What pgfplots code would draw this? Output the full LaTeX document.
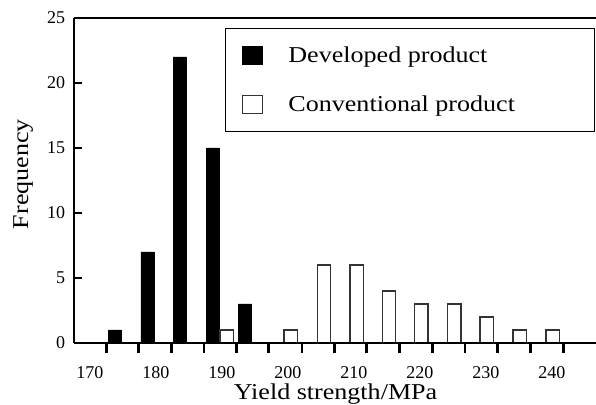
\documentclass[border=0pt]{standalone}
\usepackage{fontspec}
\setmainfont[FakeStretch=1.15]{Liberation Serif}
\newfontfamily\tickfont{Liberation Serif}
\usepackage{pgfplots}
\pgfplotsset{compat=1.18}
\usetikzlibrary{calc}

\begin{document}
\begin{tikzpicture}
\begin{axis}[
    scale only axis,
    width=391.5pt, height=243.75pt,
    xmin=167.58, xmax=246.67,
    ymin=0, ymax=25,
    enlargelimits=false,
    axis x line*=box,
    axis y line*=left,
    xtick pos=left,
    axis line style={line width=1.8pt, black},
    tick align=inside,
    xtick={170,180,...,240},
    ytick={0,5,...,25},
    minor xtick={172.5,177.4,182.4,187.3,192.2,197.0,202.1,207.0,211.9,216.9,221.9,226.8,231.7,236.7,241.7},
    major x tick style={draw=none},
    minor x tick style={line width=2pt, black},
    ytick style={line width=1.6pt, black},
    major tick length=6pt,
    minor tick length=7.5pt,
    /pgf/number format/assume math mode=true,
    tick label style={font=\tickfont\fontsize{13.5}{13.5}\selectfont},
    xticklabel style={inner sep=0pt, anchor=north, yshift=-11.25pt},
    yticklabel style={inner sep=0pt, anchor=east, xshift=-6.4pt},
    xlabel={Yield strength/MPa},
    ylabel={Frequency},
    label style={font=\fontsize{17}{17}\selectfont},
    xlabel style={at={(axis description cs:0.501,-0.1754)}, anchor=base},
    ylabel style={at={(axis description cs:-0.0881,0.52)}, anchor=base},
    ybar, bar width=2, bar shift=0pt,
    axis on top,
    legend style={at={(rel axis cs:0.2893,0.9692)}, anchor=north west,
        draw=black, line width=0.8pt, inner xsep=12.5pt, inner ysep=11.5pt,
        row sep=19.8pt, column sep=16.75pt,
        font=\fontsize{17}{17}\selectfont},
    legend cell align=left,
    legend image code/.code={\draw[#1, line width=0.9pt] (0pt,-6.75pt) rectangle (15pt,6.75pt);},
]
\addplot[fill=black, draw=black] coordinates {
    (173.8,1) (178.7,7) (183.6,22) (188.6,15) (193.5,3)};
\addlegendentry{Developed product}
\addplot[fill=white, draw=black!80, line width=0.9pt] coordinates {
    (190.7,1) (200.4,1) (205.5,6) (210.4,6) (215.3,4)
    (220.2,3) (225.2,3) (230.1,2) (235.1,1) (240.1,1)};
\addlegendentry{Conventional product\hspace*{45pt}}
\coordinate (ll) at (rel axis cs:0,0);
\coordinate (ur) at (rel axis cs:1,1);
\end{axis}
\pgfresetboundingbox
\path ($(ll)+(-55.5pt,-46.5pt)$) rectangle ($(ur)+(0pt,13.5pt)$);
\end{tikzpicture}
\end{document}
